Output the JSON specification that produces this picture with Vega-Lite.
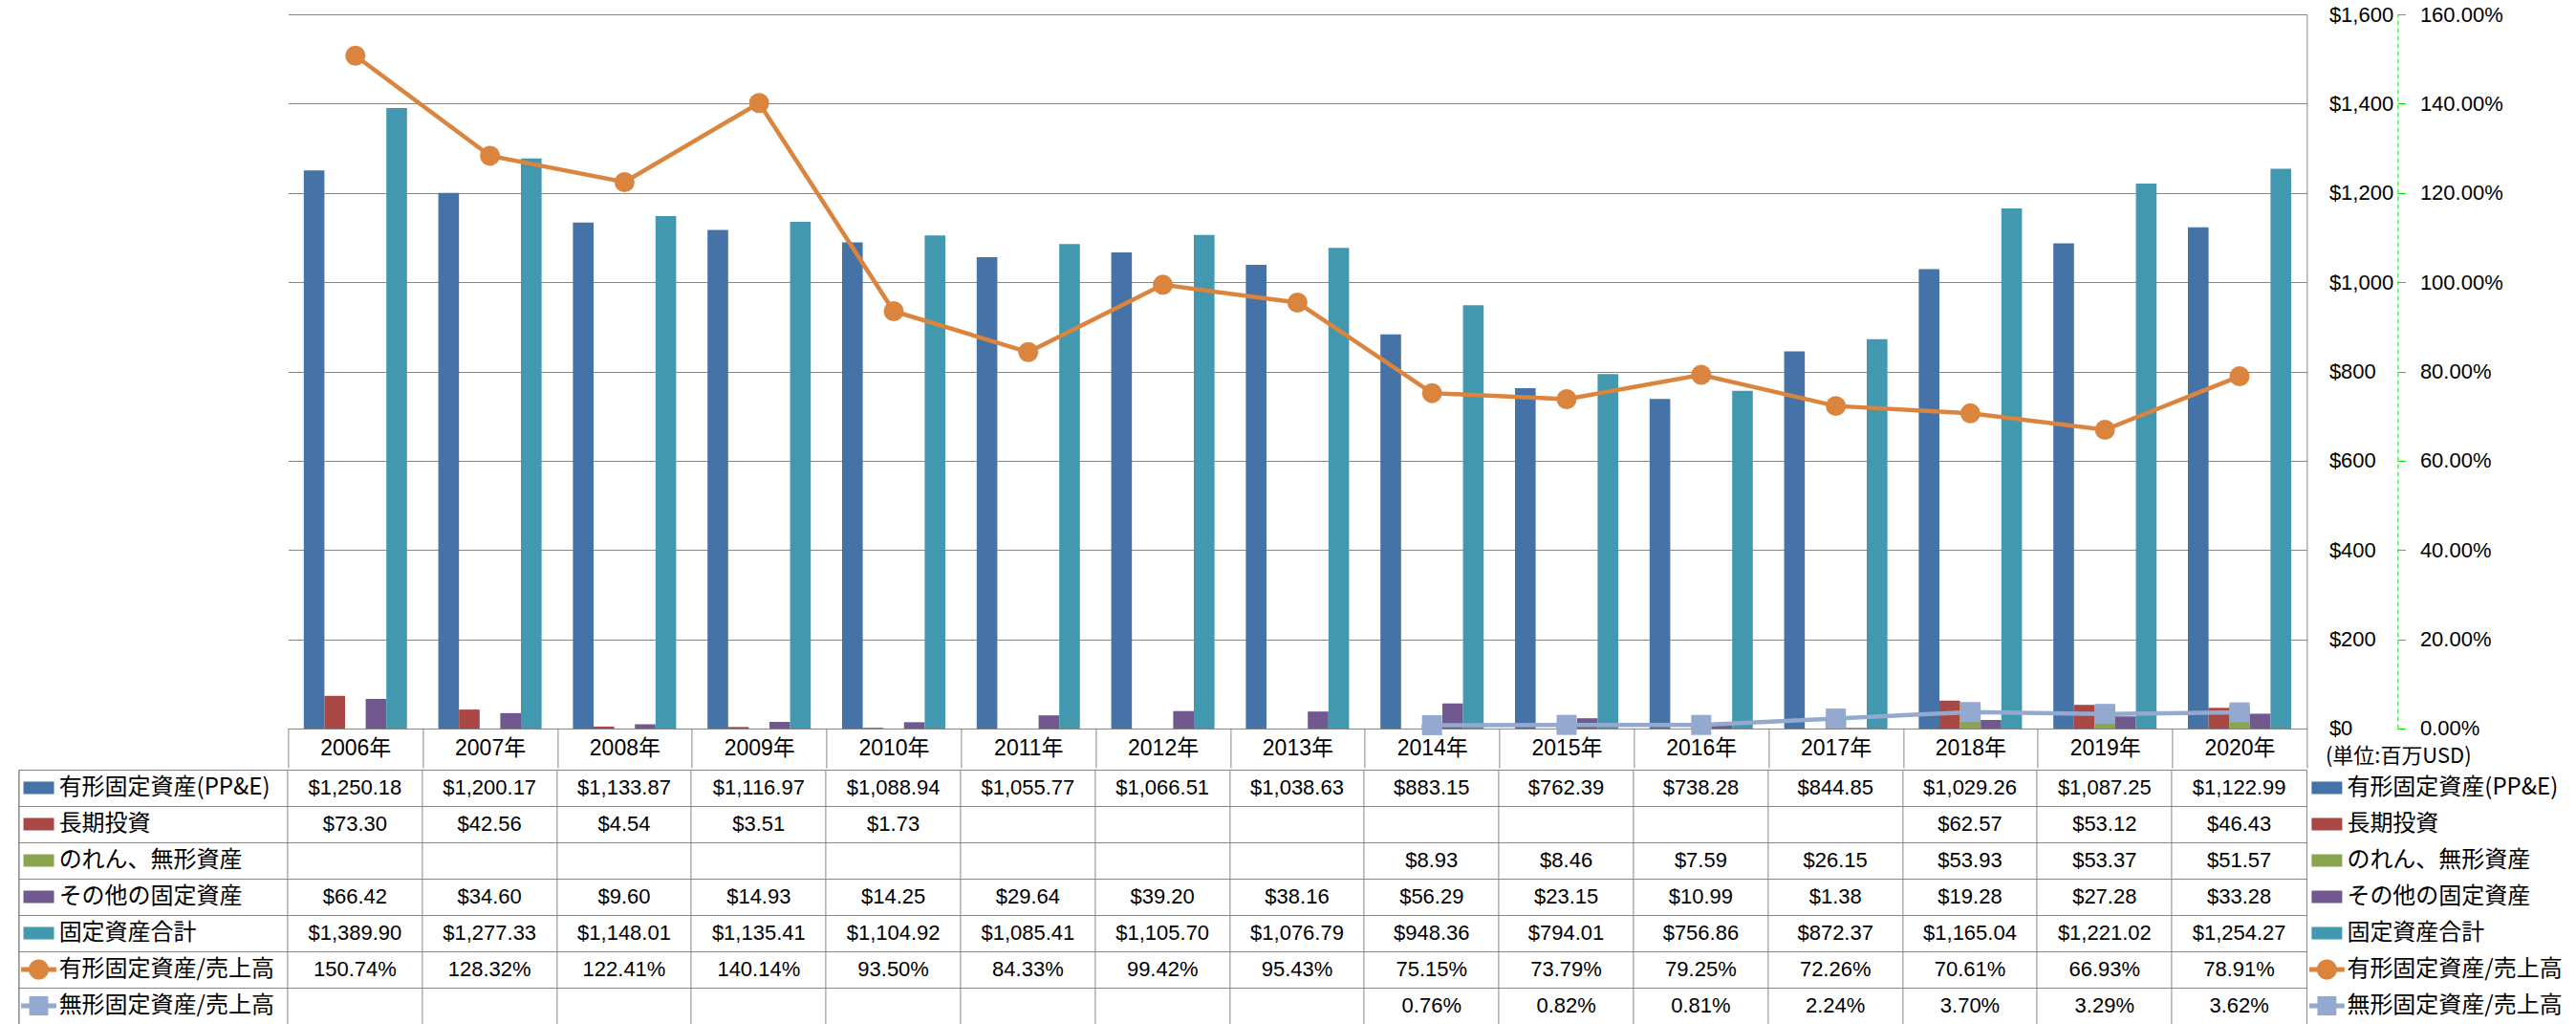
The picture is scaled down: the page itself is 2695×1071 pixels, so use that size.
{
  "$schema": "https://vega.github.io/schema/vega-lite/v6.json",
  "padding": {"left": 18.4, "top": 4, "right": 0, "bottom": 0},
  "background": "white",
  "config": {
    "view": {"stroke": null},
    "axis": {"labelFont": "Liberation Sans", "labelFontSize": 22, "labelColor": "#000000"}
  },
  "datasets": {
    "seriesList": [
      {"series": "有形固定資産(PP&E)"}, {"series": "長期投資"}, {"series": "のれん、無形資産"},
      {"series": "その他の固定資産"}, {"series": "固定資産合計"}, {"series": "有形固定資産/売上高"}, {"series": "無形固定資産/売上高"}
    ],
    "amounts": [
      {"year": "2006年", "series": "有形固定資産(PP&E)", "value": 1250.18},
      {"year": "2007年", "series": "有形固定資産(PP&E)", "value": 1200.17},
      {"year": "2008年", "series": "有形固定資産(PP&E)", "value": 1133.87},
      {"year": "2009年", "series": "有形固定資産(PP&E)", "value": 1116.97},
      {"year": "2010年", "series": "有形固定資産(PP&E)", "value": 1088.94},
      {"year": "2011年", "series": "有形固定資産(PP&E)", "value": 1055.77},
      {"year": "2012年", "series": "有形固定資産(PP&E)", "value": 1066.51},
      {"year": "2013年", "series": "有形固定資産(PP&E)", "value": 1038.63},
      {"year": "2014年", "series": "有形固定資産(PP&E)", "value": 883.15},
      {"year": "2015年", "series": "有形固定資産(PP&E)", "value": 762.39},
      {"year": "2016年", "series": "有形固定資産(PP&E)", "value": 738.28},
      {"year": "2017年", "series": "有形固定資産(PP&E)", "value": 844.85},
      {"year": "2018年", "series": "有形固定資産(PP&E)", "value": 1029.26},
      {"year": "2019年", "series": "有形固定資産(PP&E)", "value": 1087.25},
      {"year": "2020年", "series": "有形固定資産(PP&E)", "value": 1122.99},
      {"year": "2006年", "series": "長期投資", "value": 73.30},
      {"year": "2007年", "series": "長期投資", "value": 42.56},
      {"year": "2008年", "series": "長期投資", "value": 4.54},
      {"year": "2009年", "series": "長期投資", "value": 3.51},
      {"year": "2010年", "series": "長期投資", "value": 1.73},
      {"year": "2018年", "series": "長期投資", "value": 62.57},
      {"year": "2019年", "series": "長期投資", "value": 53.12},
      {"year": "2020年", "series": "長期投資", "value": 46.43},
      {"year": "2014年", "series": "のれん、無形資産", "value": 8.93},
      {"year": "2015年", "series": "のれん、無形資産", "value": 8.46},
      {"year": "2016年", "series": "のれん、無形資産", "value": 7.59},
      {"year": "2017年", "series": "のれん、無形資産", "value": 26.15},
      {"year": "2018年", "series": "のれん、無形資産", "value": 53.93},
      {"year": "2019年", "series": "のれん、無形資産", "value": 53.37},
      {"year": "2020年", "series": "のれん、無形資産", "value": 51.57},
      {"year": "2006年", "series": "その他の固定資産", "value": 66.42},
      {"year": "2007年", "series": "その他の固定資産", "value": 34.60},
      {"year": "2008年", "series": "その他の固定資産", "value": 9.60},
      {"year": "2009年", "series": "その他の固定資産", "value": 14.93},
      {"year": "2010年", "series": "その他の固定資産", "value": 14.25},
      {"year": "2011年", "series": "その他の固定資産", "value": 29.64},
      {"year": "2012年", "series": "その他の固定資産", "value": 39.20},
      {"year": "2013年", "series": "その他の固定資産", "value": 38.16},
      {"year": "2014年", "series": "その他の固定資産", "value": 56.29},
      {"year": "2015年", "series": "その他の固定資産", "value": 23.15},
      {"year": "2016年", "series": "その他の固定資産", "value": 10.99},
      {"year": "2017年", "series": "その他の固定資産", "value": 1.38},
      {"year": "2018年", "series": "その他の固定資産", "value": 19.28},
      {"year": "2019年", "series": "その他の固定資産", "value": 27.28},
      {"year": "2020年", "series": "その他の固定資産", "value": 33.28},
      {"year": "2006年", "series": "固定資産合計", "value": 1389.90},
      {"year": "2007年", "series": "固定資産合計", "value": 1277.33},
      {"year": "2008年", "series": "固定資産合計", "value": 1148.01},
      {"year": "2009年", "series": "固定資産合計", "value": 1135.41},
      {"year": "2010年", "series": "固定資産合計", "value": 1104.92},
      {"year": "2011年", "series": "固定資産合計", "value": 1085.41},
      {"year": "2012年", "series": "固定資産合計", "value": 1105.70},
      {"year": "2013年", "series": "固定資産合計", "value": 1076.79},
      {"year": "2014年", "series": "固定資産合計", "value": 948.36},
      {"year": "2015年", "series": "固定資産合計", "value": 794.01},
      {"year": "2016年", "series": "固定資産合計", "value": 756.86},
      {"year": "2017年", "series": "固定資産合計", "value": 872.37},
      {"year": "2018年", "series": "固定資産合計", "value": 1165.04},
      {"year": "2019年", "series": "固定資産合計", "value": 1221.02},
      {"year": "2020年", "series": "固定資産合計", "value": 1254.27}
    ],
    "ratios": [
      {"year": "2006年", "series": "有形固定資産/売上高", "ratio": 1.5074},
      {"year": "2007年", "series": "有形固定資産/売上高", "ratio": 1.2832},
      {"year": "2008年", "series": "有形固定資産/売上高", "ratio": 1.2241},
      {"year": "2009年", "series": "有形固定資産/売上高", "ratio": 1.4014},
      {"year": "2010年", "series": "有形固定資産/売上高", "ratio": 0.9350},
      {"year": "2011年", "series": "有形固定資産/売上高", "ratio": 0.8433},
      {"year": "2012年", "series": "有形固定資産/売上高", "ratio": 0.9942},
      {"year": "2013年", "series": "有形固定資産/売上高", "ratio": 0.9543},
      {"year": "2014年", "series": "有形固定資産/売上高", "ratio": 0.7515},
      {"year": "2015年", "series": "有形固定資産/売上高", "ratio": 0.7379},
      {"year": "2016年", "series": "有形固定資産/売上高", "ratio": 0.7925},
      {"year": "2017年", "series": "有形固定資産/売上高", "ratio": 0.7226},
      {"year": "2018年", "series": "有形固定資産/売上高", "ratio": 0.7061},
      {"year": "2019年", "series": "有形固定資産/売上高", "ratio": 0.6693},
      {"year": "2020年", "series": "有形固定資産/売上高", "ratio": 0.7891},
      {"year": "2014年", "series": "無形固定資産/売上高", "ratio": 0.0076},
      {"year": "2015年", "series": "無形固定資産/売上高", "ratio": 0.0082},
      {"year": "2016年", "series": "無形固定資産/売上高", "ratio": 0.0081},
      {"year": "2017年", "series": "無形固定資産/売上高", "ratio": 0.0224},
      {"year": "2018年", "series": "無形固定資産/売上高", "ratio": 0.0370},
      {"year": "2019年", "series": "無形固定資産/売上高", "ratio": 0.0329},
      {"year": "2020年", "series": "無形固定資産/売上高", "ratio": 0.0362}
    ]
  },
  "spacing": 0,
  "resolve": {"scale": {"x": "independent", "y": "independent", "color": "independent", "shape": "independent"}},
  "vconcat": [
    {
      "spacing": 0,
      "bounds": "flush",
      "resolve": {"scale": {"x": "independent", "y": "independent", "color": "independent", "shape": "independent"}},
      "hconcat": [
        {"width": 281.6, "height": 747, "data": {"values": []}, "mark": "point"},
        {
          "width": 2112,
          "height": 747,
          "resolve": {"scale": {"y": "independent"}},
          "layer": [
            {
              "data": {"name": "amounts"},
              "mark": {"type": "bar"},
              "encoding": {
                "x": {"field": "year", "type": "nominal", "sort": null,
                  "scale": {"type": "band", "domain": ["2006年","2007年","2008年","2009年","2010年","2011年","2012年","2013年","2014年","2015年","2016年","2017年","2018年","2019年","2020年"], "paddingInner": 0, "paddingOuter": 0},
                  "axis": {"orient": "bottom", "tickBand": "extent", "tickSize": 41, "tickColor": "#868686", "domain": true, "domainColor": "#868686",
                    "grid": false, "labelAngle": 0, "labelBaseline": "middle", "labelPadding": -20.5, "labelFontSize": 23,
                    "labelFont": "Liberation Sans, Noto Sans CJK JP", "title": null}},
                "xOffset": {"field": "series", "type": "nominal",
                  "scale": {"domain": ["有形固定資産(PP&E)","長期投資","のれん、無形資産","その他の固定資産","固定資産合計"], "paddingInner": 0, "paddingOuter": 0.759}},
                "y": {"field": "value", "type": "quantitative",
                  "scale": {"domain": [0, 1600], "nice": false},
                  "axis": {"orient": "right", "values": [0,200,400,600,800,1000,1200,1400,1600], "format": "$,.0f",
                    "grid": true, "gridColor": "#868686", "domain": true, "domainColor": "#868686",
                    "ticks": false, "labelAlign": "left", "labelPadding": 23,
                    "title": "(単位:百万USD)", "titleAngle": 0, "titleAlign": "left", "titleBaseline": "middle",
                    "titleX": 19, "titleY": 776, "titleFont": "Noto Sans CJK JP", "titleFontSize": 22,
                    "titleFontWeight": "normal", "titleColor": "#000000"}},
                "color": {"field": "series", "type": "nominal",
                  "scale": {"domain": ["有形固定資産(PP&E)","長期投資","のれん、無形資産","その他の固定資産","固定資産合計","有形固定資産/売上高","無形固定資産/売上高"],
                    "range": ["#4572A7","#AA4643","#89A54E","#71588F","#4198AF","#DB843D","#93A9CF"]},
                  "legend": null}
              }
            },
            {
              "data": {"name": "ratios"},
              "layer": [
                {
                  "mark": {"type": "line", "strokeWidth": 4.5},
                  "encoding": {
                    "x": {"field": "year", "type": "nominal", "sort": null},
                    "y": {"field": "ratio", "type": "quantitative",
                      "scale": {"domain": [0, 1.6], "nice": false},
                      "axis": {"orient": "right", "offset": 95, "values": [0,0.2,0.4,0.6,0.8,1,1.2,1.4,1.6], "format": ".2%",
                        "grid": false, "domainColor": "#00E600", "domainDash": [5, 3], "tickColor": "#00E600", "tickSize": 8,
                        "labelPadding": 15, "title": null}},
                    "color": {"field": "series", "type": "nominal", "legend": null}
                  }
                },
                {
                  "mark": {"type": "point", "filled": true, "opacity": 1, "size": 440, "strokeWidth": 0},
                  "encoding": {
                    "x": {"field": "year", "type": "nominal", "sort": null},
                    "y": {"field": "ratio", "type": "quantitative"},
                    "color": {"field": "series", "type": "nominal", "legend": null},
                    "shape": {"field": "series", "type": "nominal",
                      "scale": {"domain": ["有形固定資産/売上高","無形固定資産/売上高"], "range": ["circle","square"]},
                      "legend": null}
                  }
                }
              ]
            }
          ]
        }
      ]
    },
    {
      "spacing": 0,
      "bounds": "flush",
      "resolve": {"scale": {"x": "independent", "y": "independent", "color": "independent", "shape": "independent"}},
      "hconcat": [
        {
          "width": 2393.6, "height": 266,
          "view": {"stroke": "#868686"},
          "layer": [
            {
              "data": {"name": "amounts"},
              "mark": {"type": "text", "fontSize": 22, "font": "Liberation Sans", "color": "#000000"},
              "encoding": {
                "x": {"field": "year", "type": "nominal", "sort": null,
                  "scale": {"type": "band", "domain": ["_a","_b","2006年","2007年","2008年","2009年","2010年","2011年","2012年","2013年","2014年","2015年","2016年","2017年","2018年","2019年","2020年"], "paddingInner": 0, "paddingOuter": 0},
                  "axis": {"values": ["_a","2006年","2007年","2008年","2009年","2010年","2011年","2012年","2013年","2014年","2015年","2016年","2017年","2018年","2019年","2020年"],
                    "grid": true, "bandPosition": 0, "gridColor": "#868686", "labels": false, "ticks": false, "domain": false, "title": null}},
                "y": {"field": "series", "type": "nominal", "sort": null,
                  "scale": {"type": "band", "domain": ["有形固定資産(PP&E)","長期投資","のれん、無形資産","その他の固定資産","固定資産合計","有形固定資産/売上高","無形固定資産/売上高"], "paddingInner": 0, "paddingOuter": 0},
                  "axis": {"grid": true, "bandPosition": 0, "gridColor": "#868686", "labels": false, "ticks": false, "domain": false, "title": null}},
                "text": {"field": "value", "type": "quantitative", "format": "$,.2f"}
              }
            },
            {
              "data": {"name": "ratios"},
              "mark": {"type": "text", "fontSize": 22, "font": "Liberation Sans", "color": "#000000"},
              "encoding": {
                "x": {"field": "year", "type": "nominal", "sort": null},
                "y": {"field": "series", "type": "nominal", "sort": null},
                "text": {"field": "ratio", "type": "quantitative", "format": ".2%"}
              }
            },
            {
              "data": {"name": "seriesList"},
              "mark": {"type": "point", "filled": true, "opacity": 1, "size": 1024, "strokeWidth": 0},
              "encoding": {
                "x": {"datum": "_a", "type": "nominal", "bandPosition": 0.15},
                "y": {"field": "series", "type": "nominal", "sort": null},
                "color": {"field": "series", "type": "nominal",
                  "scale": {"domain": ["有形固定資産(PP&E)","長期投資","のれん、無形資産","その他の固定資産","固定資産合計","有形固定資産/売上高","無形固定資産/売上高"],
                    "range": ["#4572A7","#AA4643","#89A54E","#71588F","#4198AF","#DB843D","#93A9CF"]},
                  "legend": null},
                "shape": {"field": "series", "type": "nominal",
                  "scale": {"domain": ["有形固定資産(PP&E)","長期投資","のれん、無形資産","その他の固定資産","固定資産合計","有形固定資産/売上高","無形固定資産/売上高"],
                    "range": ["M-1,-0.41L1,-0.41L1,0.41L-1,0.41Z","M-1,-0.41L1,-0.41L1,0.41L-1,0.41Z","M-1,-0.41L1,-0.41L1,0.41L-1,0.41Z","M-1,-0.41L1,-0.41L1,0.41L-1,0.41Z","M-1,-0.41L1,-0.41L1,0.41L-1,0.41Z",
                      "M-1.15,-0.16L1.15,-0.16L1.15,0.16L-1.15,0.16ZM-0.66,0A0.66,0.66,0,1,1,0.66,0A0.66,0.66,0,1,1,-0.66,0Z",
                      "M-1.15,-0.16L1.15,-0.16L1.15,0.16L-1.15,0.16ZM-0.62,-0.62L0.62,-0.62L0.62,0.62L-0.62,0.62Z"]},
                  "legend": null}
              }
            },
            {
              "data": {"name": "seriesList"},
              "mark": {"type": "text", "align": "left", "fontSize": 24, "font": "Noto Sans CJK JP", "color": "#000000"},
              "encoding": {
                "x": {"datum": "_a", "type": "nominal", "bandPosition": 0.3},
                "y": {"field": "series", "type": "nominal", "sort": null},
                "text": {"field": "series"}
              }
            }
          ]
        },
        {
          "width": 280, "height": 266,
          "data": {"name": "seriesList"},
          "layer": [
            {
              "mark": {"type": "point", "filled": true, "opacity": 1, "size": 1024, "strokeWidth": 0},
              "encoding": {
                "x": {"datum": "k", "type": "nominal", "bandPosition": 0.075, "scale": {"type": "band", "domain": ["k"], "paddingInner": 0, "paddingOuter": 0}, "axis": null},
                "y": {"field": "series", "type": "nominal", "sort": null,
                  "scale": {"type": "band", "domain": ["有形固定資産(PP&E)","長期投資","のれん、無形資産","その他の固定資産","固定資産合計","有形固定資産/売上高","無形固定資産/売上高"], "paddingInner": 0, "paddingOuter": 0},
                  "axis": null},
                "color": {"field": "series", "type": "nominal",
                  "scale": {"domain": ["有形固定資産(PP&E)","長期投資","のれん、無形資産","その他の固定資産","固定資産合計","有形固定資産/売上高","無形固定資産/売上高"],
                    "range": ["#4572A7","#AA4643","#89A54E","#71588F","#4198AF","#DB843D","#93A9CF"]},
                  "legend": null},
                "shape": {"field": "series", "type": "nominal",
                  "scale": {"domain": ["有形固定資産(PP&E)","長期投資","のれん、無形資産","その他の固定資産","固定資産合計","有形固定資産/売上高","無形固定資産/売上高"],
                    "range": ["M-1,-0.41L1,-0.41L1,0.41L-1,0.41Z","M-1,-0.41L1,-0.41L1,0.41L-1,0.41Z","M-1,-0.41L1,-0.41L1,0.41L-1,0.41Z","M-1,-0.41L1,-0.41L1,0.41L-1,0.41Z","M-1,-0.41L1,-0.41L1,0.41L-1,0.41Z",
                      "M-1.15,-0.16L1.15,-0.16L1.15,0.16L-1.15,0.16ZM-0.66,0A0.66,0.66,0,1,1,0.66,0A0.66,0.66,0,1,1,-0.66,0Z",
                      "M-1.15,-0.16L1.15,-0.16L1.15,0.16L-1.15,0.16ZM-0.62,-0.62L0.62,-0.62L0.62,0.62L-0.62,0.62Z"]},
                  "legend": null}
              }
            },
            {
              "mark": {"type": "text", "align": "left", "fontSize": 24, "font": "Noto Sans CJK JP", "color": "#000000"},
              "encoding": {
                "x": {"datum": "k", "type": "nominal", "bandPosition": 0.15},
                "y": {"field": "series", "type": "nominal", "sort": null},
                "text": {"field": "series"}
              }
            }
          ]
        }
      ]
    }
  ]
}
